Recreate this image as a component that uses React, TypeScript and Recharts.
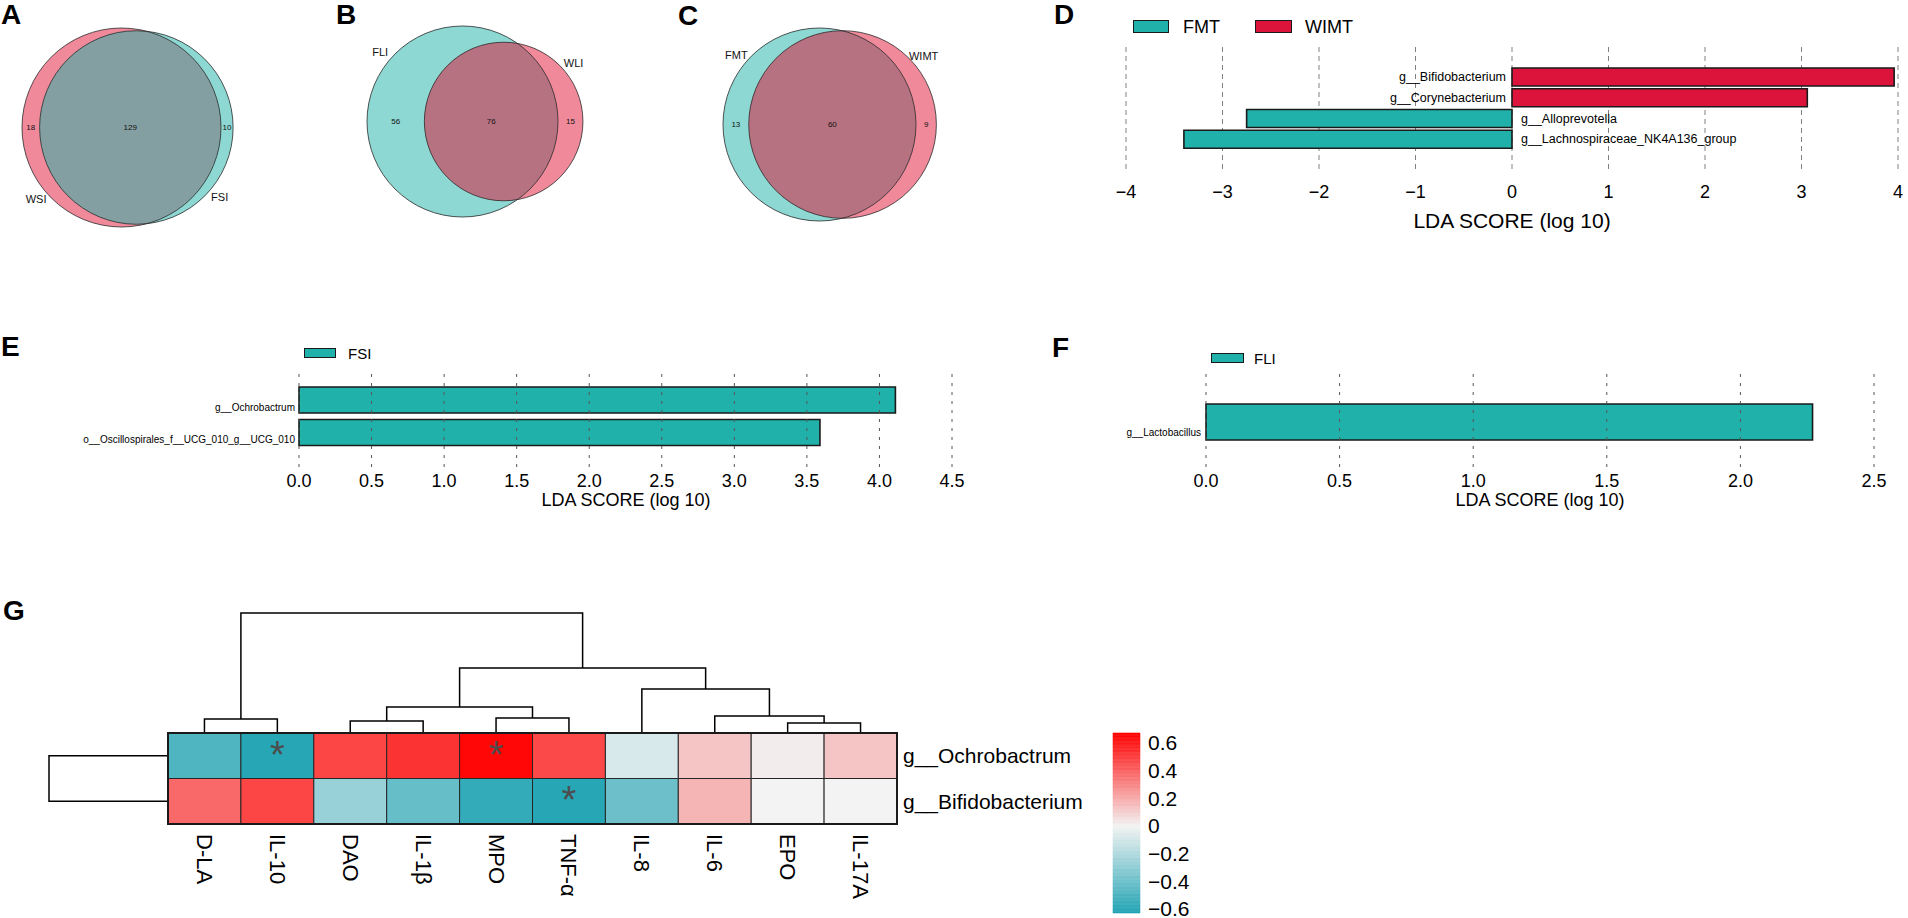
import React from "react";
import {
  BarChart,
  Bar,
  XAxis,
  YAxis,
  CartesianGrid,
  ReferenceLine,
  ReferenceArea,
  ScatterChart,
  Scatter,
  ComposedChart,
  LabelList,
  Cell,
} from "recharts";

const FONT = "'Liberation Sans', Arial, Helvetica, sans-serif";
const TEAL = "#20B2AA";
const RED = "#DC143C";
const VENN_PINK = "#F08A9B";
const VENN_TEAL = "#8DD8D3";

// Venn counts: [left only, shared, right only]
const vennNamesA = ["WSI", "FSI"];
const vennCountsA = [18, 129, 10];
const vennNamesB = ["FLI", "WLI"];
const vennCountsB = [56, 76, 15];
const vennNamesC = ["FMT", "WIMT"];
const vennCountsC = [13, 60, 9];

// LEfSe panel D
const ldaTaxaD = ["g__Bifidobacterium", "g__Corynebacterium", "g__Alloprevotella", "g__Lachnospiraceae_NK4A136_group"];
const ldaScoresD = [3.96, 3.06, -2.75, -3.4];
const ldaGroupsD = ["WIMT", "WIMT", "FMT", "FMT"];
const ldaTicksD = [-4, -3, -2, -1, 0, 1, 2, 3, 4];

// LEfSe panel E
const ldaTaxaE = ["g__Ochrobactrum", "o__Oscillospirales_f__UCG_010_g__UCG_010"];
const ldaScoresE = [4.11, 3.59];
const ldaTicksE = [0, 0.5, 1, 1.5, 2, 2.5, 3, 3.5, 4, 4.5];

// LEfSe panel F
const ldaTaxaF = ["g__Lactobacillus"];
const ldaScoresF = [2.27];
const ldaTicksF = [0, 0.5, 1, 1.5, 2, 2.5];

// heatmap G
const heatCols = ["D-LA", "IL-10", "DAO", "IL-1β", "MPO", "TNF-α", "IL-8", "IL-6", "EPO", "IL-17A"];
const heatRows = ["g__Ochrobactrum", "g__Bifidobacterium"];
const heatOchrobactrum = [-0.49, -0.61, 0.48, 0.53, 0.65, 0.47, -0.08, 0.13, 0.02, 0.13];
const heatBifidobacterium = [0.38, 0.48, -0.27, -0.42, -0.57, -0.61, -0.4, 0.17, 0.0, 0.0];
const heatStars = [[0, 1], [0, 4], [1, 5]]; // [row, col]
// [childA, childB, height]; leaves first, merges numbered after them
const colMerges = [[0, 1, 14], [2, 3, 12], [4, 5, 15], [11, 12, 26], [8, 9, 10], [7, 14, 17], [6, 15, 44], [13, 16, 65], [10, 17, 120]];
const rowMerges = [[0, 1, 120]];
const colorTicks = [-0.6, -0.4, -0.2, 0, 0.2, 0.4, 0.6];

const COLOR_MIN = -0.63;
const COLOR_MAX = 0.67;
const LOW = [32, 163, 179];
const MID = [243, 243, 243];
const HIGH = [255, 0, 0];

function heatColor(v: number) {
  const t = v >= 0 ? Math.min(v / COLOR_MAX, 1) : Math.min(v / COLOR_MIN, 1);
  const end = v >= 0 ? HIGH : LOW;
  const c = MID.map((m, i) => Math.round(m + (end[i] - m) * t));
  return `rgb(${c[0]},${c[1]},${c[2]})`;
}

const minus = (v: number) => (v < 0 ? `\u2212${Math.abs(v)}` : `${v}`);

function lensArea(d: number, r1: number, r2: number) {
  if (d >= r1 + r2) return 0;
  if (d <= Math.abs(r1 - r2)) return Math.PI * Math.min(r1, r2) ** 2;
  const a1 = Math.acos((d * d + r1 * r1 - r2 * r2) / (2 * d * r1));
  const a2 = Math.acos((d * d + r2 * r2 - r1 * r1) / (2 * d * r2));
  const k = Math.sqrt((-d + r1 + r2) * (d + r1 - r2) * (d - r1 + r2) * (d + r1 + r2));
  return r1 * r1 * a1 + r2 * r2 * a2 - k / 2;
}

function vennLayout(counts: number[], R: number) {
  const n1 = counts[0] + counts[1];
  const n2 = counts[2] + counts[1];
  const big = Math.max(n1, n2);
  const r1 = R * Math.sqrt(n1 / big);
  const r2 = R * Math.sqrt(n2 / big);
  const target = (counts[1] / n1) * Math.PI * r1 * r1;
  let lo = Math.abs(r1 - r2);
  let hi = r1 + r2;
  for (let i = 0; i < 60; i++) {
    const mid = (lo + hi) / 2;
    if (lensArea(mid, r1, r2) > target) lo = mid;
    else hi = mid;
  }
  return { r1, r2, d: (lo + hi) / 2 };
}

// each merge becomes a "⊓" polyline: [pos, height] points
function treeLinks(n: number, merges: number[][]) {
  const pos: number[] = [];
  const h: number[] = [];
  for (let i = 0; i < n; i++) {
    pos.push(i + 0.5);
    h.push(0);
  }
  const links: number[][][] = [];
  merges.forEach(([a, b, hh]) => {
    links.push([[pos[a], h[a]], [pos[a], hh], [pos[b], hh], [pos[b], h[b]]]);
    pos.push((pos[a] + pos[b]) / 2);
    h.push(hh);
  });
  return links;
}

const Letter = ({ ch, x, y }: any) => (
  <div style={{ position: "absolute", left: x, top: y - 15, fontSize: 28, lineHeight: "30px", fontWeight: "bold", fontFamily: FONT }}>
    {ch}
  </div>
);

const Txt = ({ x, y, size, center, children }: any) => (
  <div
    style={{
      position: "absolute",
      left: x,
      top: y - size / 2,
      fontSize: size,
      lineHeight: `${size}px`,
      fontFamily: FONT,
      whiteSpace: "nowrap",
      transform: center ? "translateX(-50%)" : undefined,
    }}
  >
    {children}
  </div>
);

const LegendBox = ({ x, y, w, h, fill }: any) => (
  <div style={{ position: "absolute", left: x, top: y, width: w, height: h, background: fill, border: "1.5px solid #1a1a1a", boxSizing: "border-box" }} />
);

const noDot = () => <g />;

function VennChart({ left, width, names, counts, fills, lensFill, catPos, x0, y0, R, uid }: any) {
  const H = 250;
  const { r1, r2, d } = vennLayout(counts, R);
  const c1 = x0 - left + r1;
  const c2 = c1 + d;
  const circles = [
    { x: c1, y: y0, r: r1, fill: fills[0] },
    { x: c2, y: y0, r: r2, fill: fills[1] },
  ];
  const lens = [{ x: c2, y: y0, r: r2, cr: r1, dx: d }];
  const texts = [
    { x: (c1 - r1 + c2 - r2) / 2, y: y0, label: counts[0], size: 8 },
    { x: (c2 - r2 + c1 + r1) / 2, y: y0, label: counts[1], size: 8 },
    { x: (c1 + r1 + c2 + r2) / 2, y: y0, label: counts[2], size: 8 },
    ...names.map((n: string, i: number) => {
      const c = circles[i];
      const a = (catPos[i] * Math.PI) / 180;
      const dist = c.r + 12;
      return { x: c.x + dist * Math.sin(a), y: c.y - dist * Math.cos(a), label: n, size: 11 };
    }),
  ];
  return (
    <div style={{ position: "absolute", left, top: 0 }}>
      <ScatterChart width={width} height={H} margin={{ top: 0, right: 0, bottom: 0, left: 0 }}>
        <XAxis type="number" dataKey="x" domain={[0, width]} hide />
        <YAxis type="number" dataKey="y" domain={[0, H]} reversed hide />
        <Scatter
          data={circles}
          isAnimationActive={false}
          shape={(p: any) => <circle cx={p.cx} cy={p.cy} r={p.payload.r} fill={p.payload.fill} />}
        />
        <Scatter
          data={lens}
          isAnimationActive={false}
          shape={(p: any) => (
            <g>
              <defs>
                <clipPath id={`lens-${uid}`}>
                  <circle cx={p.cx - p.payload.dx} cy={p.cy} r={p.payload.cr} />
                </clipPath>
              </defs>
              <circle cx={p.cx} cy={p.cy} r={p.payload.r} fill={lensFill} clipPath={`url(#lens-${uid})`} />
            </g>
          )}
        />
        <Scatter
          data={circles}
          isAnimationActive={false}
          shape={(p: any) => <circle cx={p.cx} cy={p.cy} r={p.payload.r} fill="none" stroke="#2a2a2a" strokeWidth={0.8} />}
        />
        <Scatter
          data={texts}
          isAnimationActive={false}
          shape={(p: any) => (
            <text x={p.cx} y={p.cy} textAnchor="middle" dominantBaseline="central" fontSize={p.payload.size} fontFamily={FONT} fill="#111">
              {p.payload.label}
            </text>
          )}
        />
      </ScatterChart>
    </div>
  );
}

const taxonTick = (dy: number, size: number) => (p: any) => (
  <text x={p.x} y={p.y + dy} textAnchor="end" dominantBaseline="central" fontSize={size} fontFamily={FONT} fill="#000">
    {p.payload.value}
  </text>
);

const tickStyle = { fontSize: 18, fill: "#000", fontFamily: FONT };

function PanelD() {
  const data = ldaTaxaD.map((name, i) => ({ name, value: ldaScoresD[i], group: ldaGroupsD[i] }));
  const label = (p: any) => {
    const i = ldaTaxaD.indexOf(p.value);
    const v = ldaScoresD[i];
    const x0 = v >= 0 ? Math.min(p.x, p.x + p.width) : Math.max(p.x, p.x + p.width);
    return (
      <text
        x={v >= 0 ? x0 - 6 : x0 + 9}
        y={p.y + p.height / 2}
        textAnchor={v >= 0 ? "end" : "start"}
        dominantBaseline="central"
        fontSize={12.5}
        fontFamily={FONT}
        fill="#000"
      >
        {p.value}
      </text>
    );
  };
  return (
    <div style={{ position: "absolute", left: 1100, top: 0 }}>
      <BarChart layout="vertical" width={808} height={240} data={data} margin={{ top: 47, right: 10, bottom: 37, left: 26 }}>
        <CartesianGrid horizontal={false} strokeDasharray="5 4" stroke="#808080" />
        <XAxis
          type="number"
          domain={[-4, 4]}
          ticks={ldaTicksD}
          interval={0}
          axisLine={false}
          tickLine={false}
          tickSize={0}
          tickMargin={12}
          height={30}
          tick={tickStyle}
          tickFormatter={minus}
        />
        <YAxis type="category" dataKey="name" hide padding={{ top: 20, bottom: 23 }} />
        <Bar dataKey="value" barSize={18} stroke="#1a1a1a" strokeWidth={1.6} isAnimationActive={false}>
          {data.map((d) => (
            <Cell key={d.name} fill={d.group === "WIMT" ? RED : TEAL} />
          ))}
          <LabelList dataKey="name" content={label} />
        </Bar>
      </BarChart>
    </div>
  );
}

function PanelE() {
  const data = ldaTaxaE.map((name, i) => ({ name, value: ldaScoresE[i] }));
  return (
    <div style={{ position: "absolute", left: 0, top: 320 }}>
      <BarChart layout="vertical" width={1000} height={180} data={data} margin={{ top: 48, right: 48, bottom: 3, left: 0 }}>
        <XAxis
          type="number"
          domain={[0, 4.5]}
          ticks={ldaTicksE}
          interval={0}
          axisLine={false}
          tickLine={false}
          tickSize={0}
          tickMargin={7}
          height={30}
          tick={tickStyle}
          tickFormatter={(v: number) => v.toFixed(1)}
        />
        <YAxis
          type="category"
          dataKey="name"
          width={299}
          axisLine={false}
          tickLine={false}
          tickSize={0}
          tickMargin={4}
          interval={0}
          padding={{ top: 16, bottom: 18 }}
          tick={taxonTick(7, 10)}
        />
        <Bar dataKey="value" barSize={26} fill={TEAL} stroke="#1a1a1a" strokeWidth={1.6} isAnimationActive={false} />
        {ldaTicksE.map((t) => (
          <ReferenceLine key={t} x={t} stroke="#555" strokeDasharray="3 6" />
        ))}
      </BarChart>
    </div>
  );
}

function PanelF() {
  const data = ldaTaxaF.map((name, i) => ({ name, value: ldaScoresF[i] }));
  return (
    <div style={{ position: "absolute", left: 1000, top: 320 }}>
      <BarChart layout="vertical" width={908} height={180} data={data} margin={{ top: 53, right: 34, bottom: 3, left: 0 }}>
        <XAxis
          type="number"
          domain={[0, 2.5]}
          ticks={ldaTicksF}
          interval={0}
          axisLine={false}
          tickLine={false}
          tickSize={0}
          tickMargin={7}
          height={30}
          tick={tickStyle}
          tickFormatter={(v: number) => v.toFixed(1)}
        />
        <YAxis
          type="category"
          dataKey="name"
          width={206}
          axisLine={false}
          tickLine={false}
          tickSize={0}
          tickMargin={5}
          interval={0}
          padding={{ top: 29, bottom: 25 }}
          tick={taxonTick(10, 10)}
        />
        <Bar dataKey="value" barSize={40} fill={TEAL} stroke="#1a1a1a" strokeWidth={1.6} isAnimationActive={false} />
        {ldaTicksF.map((t) => (
          <ReferenceLine key={t} x={t} stroke="#555" strokeDasharray="3 6" />
        ))}
      </BarChart>
    </div>
  );
}

const treeLine = { stroke: "#000", strokeWidth: 1.5 };

function PanelG() {
  const values = [heatOchrobactrum, heatBifidobacterium];
  const stars = heatStars.map(([r, c]) => ({ x: c + 0.5, y: r + 0.5 }));
  const colLinks = treeLinks(heatCols.length, colMerges);
  const rowLinks = treeLinks(heatRows.length, rowMerges);
  const slices: number[] = [];
  for (let v = COLOR_MIN; v < COLOR_MAX - 1e-9; v += 0.01) slices.push(+v.toFixed(3));
  const sliceData = slices.map((v) => ({ x: 0.5, y: v + 0.005 }));
  const colTick = (p: any) => (
    <text
      transform={`translate(${p.x},${p.y}) rotate(90)`}
      textAnchor="start"
      dominantBaseline="central"
      fontSize={22}
      fontFamily={FONT}
      fill="#000"
    >
      {heatCols[Math.floor(p.payload.value)]}
    </text>
  );
  const rowTick = (p: any) => (
    <text x={p.x} y={p.y} textAnchor="start" dominantBaseline="central" fontSize={21} fontFamily={FONT} fill="#000">
      {heatRows[Math.floor(p.payload.value)]}
    </text>
  );
  return (
    <>
      {/* column dendrogram */}
      <div style={{ position: "absolute", left: 0, top: 600 }}>
        <ScatterChart width={1100} height={134} margin={{ top: 13, right: 203, bottom: 1, left: 168 }}>
          <XAxis type="number" dataKey="x" domain={[0, heatCols.length]} hide />
          <YAxis type="number" dataKey="y" domain={[0, 120]} hide />
          {colLinks.map((l, i) => (
            <Scatter
              key={i}
              data={l.map(([x, y]) => ({ x, y }))}
              line={treeLine}
              shape={noDot}
              isAnimationActive={false}
            />
          ))}
        </ScatterChart>
      </div>
      {/* row dendrogram */}
      <div style={{ position: "absolute", left: 0, top: 733 }}>
        <ScatterChart width={169} height={91} margin={{ top: 0, right: 1, bottom: 0, left: 49 }}>
          <XAxis type="number" dataKey="x" domain={[0, 120]} reversed hide />
          <YAxis type="number" dataKey="y" domain={[0, heatRows.length]} reversed hide />
          {rowLinks.map((l, i) => (
            <Scatter
              key={i}
              data={l.map(([p, h]) => ({ x: h, y: p }))}
              line={treeLine}
              shape={noDot}
              isAnimationActive={false}
            />
          ))}
        </ScatterChart>
      </div>
      {/* heatmap */}
      <div style={{ position: "absolute", left: 0, top: 600 }}>
        <ComposedChart width={1140} height={318} data={stars} margin={{ top: 133, right: 0, bottom: 0, left: 168 }}>
          <XAxis
            type="number"
            dataKey="x"
            domain={[0, heatCols.length]}
            ticks={heatCols.map((_, i) => i + 0.5)}
            interval={0}
            axisLine={false}
            tickLine={false}
            tickSize={0}
            tickMargin={10}
            height={94}
            tick={colTick}
          />
          <YAxis
            type="number"
            dataKey="y"
            orientation="right"
            domain={[0, heatRows.length]}
            reversed
            ticks={heatRows.map((_, i) => i + 0.5)}
            interval={0}
            axisLine={false}
            tickLine={false}
            tickSize={0}
            tickMargin={6}
            width={243}
            tick={rowTick}
          />
          {values.map((row, r) =>
            row.map((v, c) => (
              <ReferenceArea
                key={`${r}-${c}`}
                x1={c}
                x2={c + 1}
                y1={r}
                y2={r + 1}
                fill={heatColor(v)}
                fillOpacity={1}
                stroke="#262626"
                strokeWidth={1}
              />
            ))
          )}
          <ReferenceArea x1={0} x2={heatCols.length} y1={0} y2={heatRows.length} fill="none" stroke="#1a1a1a" strokeWidth={2} />
          <Scatter
            data={stars}
            isAnimationActive={false}
            shape={(p: any) => (
              <text x={p.cx} y={p.cy + 12} textAnchor="middle" fontSize={38} fontFamily={FONT} fill="#4d4d4d">
                *
              </text>
            )}
          />
        </ComposedChart>
      </div>
      {/* colour key */}
      <div style={{ position: "absolute", left: 1100, top: 700 }}>
        <ComposedChart width={200} height={218} data={sliceData} margin={{ top: 33, right: 0, bottom: 5, left: 13 }}>
          <XAxis type="number" dataKey="x" domain={[0, 1]} hide />
          <YAxis
            type="number"
            dataKey="y"
            orientation="right"
            domain={[COLOR_MIN, COLOR_MAX]}
            ticks={colorTicks}
            interval={0}
            axisLine={false}
            tickLine={false}
            tickSize={0}
            tickMargin={8}
            width={160}
            tick={{ fontSize: 21, fill: "#000", fontFamily: FONT, textAnchor: "start" }}
            tickFormatter={(v: number) => (v === 0 ? "0" : minus(v))}
          />
          {slices.map((v) => (
            <ReferenceArea
              key={v}
              x1={0}
              x2={1}
              y1={v}
              y2={Math.min(v + 0.01, COLOR_MAX)}
              fill={heatColor(v + 0.005)}
              fillOpacity={1}
              stroke={heatColor(v + 0.005)}
              strokeWidth={0.6}
            />
          ))}
          <Scatter data={sliceData} shape={noDot} isAnimationActive={false} />
        </ComposedChart>
      </div>
    </>
  );
}

export default function App() {
  return (
    <div style={{ position: "relative", width: 1908, height: 918, background: "#fff", overflow: "hidden", fontFamily: FONT }}>
      <style>{"body{margin:0}"}</style>

      <VennChart left={0} width={300} names={vennNamesA} counts={vennCountsA} fills={[VENN_PINK, VENN_TEAL]} lensFill="#849FA2" catPos={[230, 130]} x0={22} y0={127.5} R={99.5} uid="a" />
      <VennChart left={320} width={320} names={vennNamesB} counts={vennCountsB} fills={[VENN_TEAL, VENN_PINK]} lensFill="#B77282" catPos={[310, 50]} x0={367} y0={121.5} R={95.5} uid="b" />
      <VennChart left={680} width={320} names={vennNamesC} counts={vennCountsC} fills={[VENN_TEAL, VENN_PINK]} lensFill="#B77282" catPos={[310, 50]} x0={723} y0={124.5} R={96.5} uid="c" />

      <PanelD />
      <PanelE />
      <PanelF />
      <PanelG />

      <Letter ch="A" x={1} y={15} />
      <Letter ch="B" x={336} y={15} />
      <Letter ch="C" x={678} y={16} />
      <Letter ch="D" x={1054} y={15} />
      <Letter ch="E" x={1} y={347} />
      <Letter ch="F" x={1052} y={348} />
      <Letter ch="G" x={3} y={611} />

      {/* legends */}
      <LegendBox x={1133} y={20} w={36} h={13} fill={TEAL} />
      <Txt x={1183} y={27} size={18}>FMT</Txt>
      <LegendBox x={1255} y={20} w={37} h={13} fill={RED} />
      <Txt x={1305} y={27} size={18}>WIMT</Txt>
      <LegendBox x={304} y={348} w={32} h={10} fill={TEAL} />
      <Txt x={348} y={353} size={15}>FSI</Txt>
      <LegendBox x={1211} y={353} w={33} h={10} fill={TEAL} />
      <Txt x={1254} y={358} size={15}>FLI</Txt>

      {/* axis titles */}
      <Txt x={1512} y={220} size={21} center>LDA SCORE (log 10)</Txt>
      <Txt x={626} y={500} size={18} center>LDA SCORE (log 10)</Txt>
      <Txt x={1540} y={500} size={18} center>LDA SCORE (log 10)</Txt>
    </div>
  );
}
